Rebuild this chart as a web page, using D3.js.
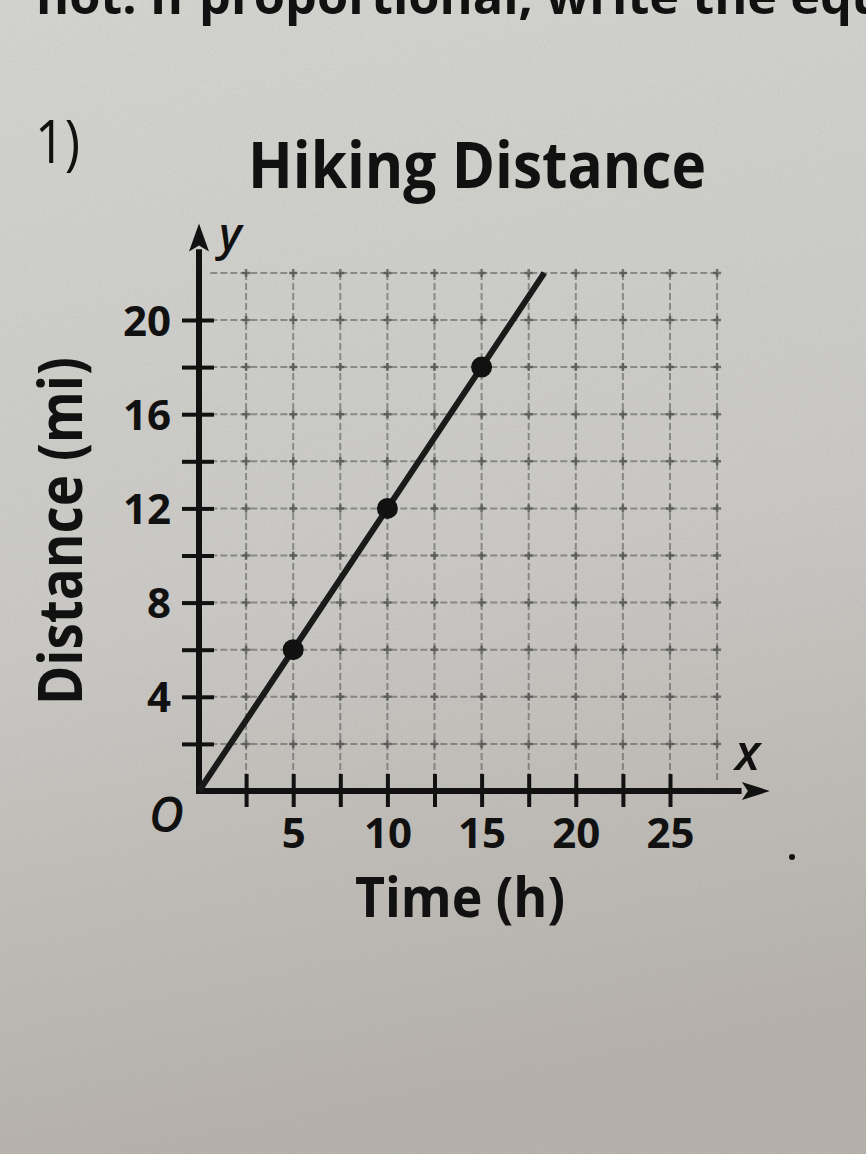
<!DOCTYPE html>
<html>
<head>
<meta charset="utf-8">
<script src="https://cdn.jsdelivr.net/npm/d3@7/dist/d3.min.js"></script>
<style>
  html, body { margin: 0; padding: 0; background: #c8c7c3; }
  svg { display: block; }
  text { font-family: "Open Sans", "Noto Sans", sans-serif; fill: #111; }
</style>
</head>
<body>
<svg id="chart" width="866" height="1154"></svg>
<script>
/** datos **/
var xTicks = [2.5, 5, 7.5, 10, 12.5, 15, 17.5, 20, 22.5, 25];
var xLabels = [5, 10, 15, 20, 25];
var yTicks = [2, 4, 6, 8, 10, 12, 14, 16, 18, 20];
var yLabels = [4, 8, 12, 16, 20];
var xGrid = [2.5, 5, 7.5, 10, 12.5, 15, 17.5, 20, 22.5, 25, 27.5];
var yGrid = [2, 4, 6, 8, 10, 12, 14, 16, 18, 20, 22];
var horas = [5, 10, 15];
var millas = [6, 12, 18];
var rectaT = [0, 18.33];
var rectaD = [0, 22];

var svg = d3.select("#chart");
var x = d3.scaleLinear().domain([0, 25]).range([199, 670]);
var y = d3.scaleLinear().domain([0, 20]).range([791, 320]);

// fondo de papel
var defs = svg.append("defs");
var grad = defs.append("linearGradient").attr("id", "papel")
  .attr("x1", 0).attr("y1", 0).attr("x2", 0.15).attr("y2", 1);
grad.append("stop").attr("offset", "0%").attr("stop-color", "#d4d4d0");
grad.append("stop").attr("offset", "55%").attr("stop-color", "#cac9c5");
grad.append("stop").attr("offset", "100%").attr("stop-color", "#b6b1ab");
var ruido = defs.append("filter").attr("id", "ruido");
ruido.append("feTurbulence").attr("type", "fractalNoise")
  .attr("baseFrequency", "0.9 0.35").attr("numOctaves", 2).attr("seed", 4);
ruido.append("feColorMatrix").attr("type", "matrix")
  .attr("values", "0 0 0 0 0.3  0 0 0 0 0.3  0 0 0 0 0.3  0 0 0 0.6 -0.15");

svg.append("rect").attr("width", 866).attr("height", 1154).attr("fill", "url(#papel)");
svg.append("rect").attr("width", 866).attr("height", 1154)
  .attr("filter", "url(#ruido)").attr("opacity", 0.3);

// textos de la hoja (la primera linea queda cortada arriba, como en la foto)
svg.append("text").attr("x", 36).attr("y", 14)
  .attr("font-size", 50).attr("font-weight", 700)
  .attr("textLength", 849).attr("lengthAdjust", "spacingAndGlyphs")
  .text("not. If proportional, write the equ");

svg.append("text").attr("x", 35).attr("y", 163)
  .attr("font-size", 60).attr("font-weight", 400)
  .attr("textLength", 45).attr("lengthAdjust", "spacingAndGlyphs")
  .text("1)");

svg.append("text").attr("x", 248).attr("y", 188)
  .attr("font-size", 64).attr("font-weight", 700)
  .attr("textLength", 458).attr("lengthAdjust", "spacingAndGlyphs")
  .text("Hiking Distance");

// cuadricula
var g = svg.append("g").attr("stroke", "#5e5e5c").attr("stroke-width", 2)
  .attr("stroke-dasharray", "7 3").attr("opacity", 0.6);
g.selectAll("line.v").data(xGrid).enter().append("line").attr("class", "v")
  .attr("x1", function(d) { return x(d); }).attr("x2", function(d) { return x(d); })
  .attr("y1", y(22)).attr("y2", y(0.45));
g.selectAll("line.h").data(yGrid).enter().append("line").attr("class", "h")
  .attr("x1", x(0.6)).attr("x2", x(27.5))
  .attr("y1", function(d) { return y(d); }).attr("y2", function(d) { return y(d); });

var cruces = d3.cross(xGrid, yGrid);
svg.append("g").attr("stroke", "#4a4a48").attr("stroke-width", 2.5).attr("opacity", 0.7)
  .selectAll("path").data(cruces).enter().append("path")
  .attr("d", function(d) {
    var cx = x(d[0]), cy = y(d[1]);
    return "M" + (cx - 4) + "," + cy + "H" + (cx + 4) + "M" + cx + "," + (cy - 4) + "V" + (cy + 4);
  });

// ejes con marcas que cruzan
var xAxis = d3.axisBottom(x).tickValues(xTicks).tickSize(17)
  .tickFormat(function(d) { return xLabels.indexOf(d) >= 0 ? d : ""; });
var gx = svg.append("g").attr("transform", "translate(0," + y(0) + ")").call(xAxis);
gx.select(".domain").remove();
gx.selectAll(".tick line").attr("y1", -17).attr("y2", 16).attr("stroke", "#111").attr("stroke-width", 4);
gx.selectAll(".tick text").attr("y", 57).attr("dy", 0).attr("font-size", 42)
  .attr("font-weight", 700).attr("fill", "#111").attr("font-family", "'Open Sans', sans-serif");

var yAxis = d3.axisLeft(y).tickValues(yTicks).tickSize(17)
  .tickFormat(function(d) { return yLabels.indexOf(d) >= 0 ? d : ""; });
var gy = svg.append("g").attr("transform", "translate(" + x(0) + ",0)").call(yAxis);
gy.select(".domain").remove();
gy.selectAll(".tick line").attr("x1", -17).attr("x2", 15).attr("stroke", "#111").attr("stroke-width", 4);
gy.selectAll(".tick text").attr("x", -28).attr("dy", "0.36em").attr("font-size", 42)
  .attr("font-weight", 700).attr("fill", "#111").attr("font-family", "'Open Sans', sans-serif");

// lineas de los ejes con flechas
var ejes = svg.append("g").attr("stroke", "#111").attr("stroke-width", 6).attr("fill", "none");
ejes.append("line").attr("x1", x(0) - 3).attr("y1", y(0)).attr("x2", x(28.8)).attr("y2", y(0));
ejes.append("line").attr("x1", x(0)).attr("y1", y(0) + 3).attr("x2", x(0)).attr("y2", y(23));
var tipX = x(30.3), tipY = y(24.1);
svg.append("path").attr("fill", "#111")
  .attr("d", "M" + tipX + "," + y(0) + "L" + (tipX - 28) + "," + (y(0) - 9) + "L" + (tipX - 22) + "," + y(0) + "L" + (tipX - 28) + "," + (y(0) + 9) + "Z");
svg.append("path").attr("fill", "#111")
  .attr("d", "M" + x(0) + "," + tipY + "L" + (x(0) - 10) + "," + (tipY + 28) + "L" + x(0) + "," + (tipY + 22) + "L" + (x(0) + 10) + "," + (tipY + 28) + "Z");

// recta y puntos
var recta = d3.line().x(function(d, i) { return x(rectaT[i]); }).y(function(d, i) { return y(rectaD[i]); });
svg.append("path").attr("d", recta(rectaT)).attr("stroke", "#1a1a1a")
  .attr("stroke-width", 6).attr("fill", "none");
svg.selectAll("circle.pt").data(horas).enter().append("circle").attr("class", "pt")
  .attr("cx", function(d) { return x(d); })
  .attr("cy", function(d, i) { return y(millas[i]); })
  .attr("r", 10.5).attr("fill", "#111");

// etiquetas
svg.append("text").attr("x", 219).attr("y", 250).attr("font-size", 46)
  .attr("font-style", "italic").attr("font-weight", 600).text("y");
svg.append("text").attr("x", 735).attr("y", 770).attr("font-size", 50)
  .attr("font-style", "italic").attr("font-weight", 600).text("x");
svg.append("text").attr("x", 149).attr("y", 832).attr("font-size", 48)
  .attr("font-style", "italic").attr("font-weight", 600).text("O");

svg.append("text").attr("transform", "translate(82,705) rotate(-90)")
  .attr("font-size", 60).attr("font-weight", 700)
  .attr("textLength", 348).attr("lengthAdjust", "spacingAndGlyphs")
  .text("Distance (mi)");
svg.append("text").attr("x", 355).attr("y", 917)
  .attr("font-size", 56).attr("font-weight", 700)
  .attr("textLength", 210).attr("lengthAdjust", "spacingAndGlyphs")
  .text("Time (h)");

svg.append("circle").attr("cx", 792).attr("cy", 857).attr("r", 3).attr("fill", "#111");
</script>
</body>
</html>
